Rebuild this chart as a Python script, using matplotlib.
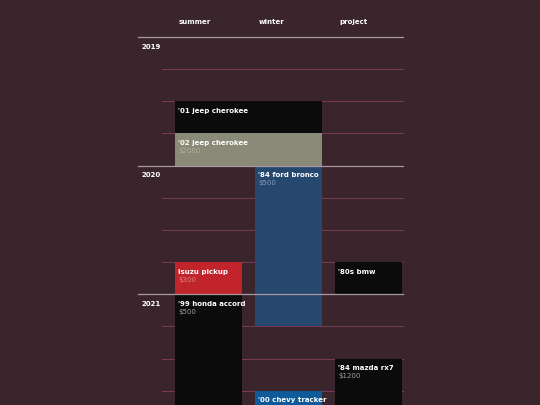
import matplotlib
matplotlib.use("Agg")
import matplotlib.pyplot as plt

columns = ["summer", "winter", "project"]
years = ["2019", "2020", "2021"]
cars = ["'01 jeep cherokee", "'02 jeep cherokee", "'84 ford bronco", "isuzu pickup",
        "'80s bmw", "'99 honda accord", "'84 mazda rx7", "'00 chevy tracker"]
prices = ["", "$2000", "$500", "$300", "", "$500", "$1200", ""]
col_start = [0, 0, 1, 0, 2, 0, 2, 1]
col_end = [1, 1, 1, 0, 2, 0, 2, 1]
q_start = [2, 3, 4, 7, 7, 8, 10, 11]
q_end = [3, 4, 9, 8, 8, 12, 12, 12]
colors = ["#0b0b0b", "#8a8a78", "#26486f", "#c1242a", "#0b0b0b", "#0b0b0b", "#0b0b0b", "#0f5a98"]
price_colors = ["#a0a0a0", "#b0b0a0", "#8a9ab0", "#e08080", "#a0a0a0", "#a0a0a0", "#a0a0a0", "#a0a0a0"]

bg = "#3a252d"
fig = plt.figure(figsize=(5.4, 4.05), dpi=100, facecolor=bg)
ax = fig.add_axes([0, 0, 1, 1])
ax.set_facecolor(bg)
qh = 32.15
top = 37
ax.set_xlim(0, 540)
ax.set_ylim((405 - top) / qh, -top / qh)
ax.axis("off")

col_x = [175, 255, 335]
col_w = 67

for q in range(12):
    if q % 4 == 0:
        ax.plot([138, 403], [q, q], color="#a898a0", lw=0.9, zorder=3)
        ax.text(142, q + 0.3, years[q // 4], color="white", fontsize=5, fontweight="bold", va="center")
    else:
        ax.plot([162, 403], [q, q], color="#7a3a55", lw=0.7, zorder=1)

for i, c in enumerate(columns):
    ax.text(col_x[i] + 4, -0.47, c, color="white", fontsize=5, fontweight="bold", va="center")

for i in range(len(cars)):
    x0 = col_x[col_start[i]]
    x1 = col_x[col_end[i]] + col_w
    ax.bar(x0, q_end[i] - q_start[i], width=x1 - x0, bottom=q_start[i], align="edge",
           color=colors[i], zorder=2)
    ax.text(x0 + 3, q_start[i] + 0.3, cars[i], color="white", fontsize=5, fontweight="bold",
            va="center", zorder=4)
    if prices[i]:
        ax.text(x0 + 3, q_start[i] + 0.55, prices[i], color=price_colors[i], fontsize=5,
                va="center", zorder=4)

fig.savefig("out.png", dpi=100, facecolor=bg)
